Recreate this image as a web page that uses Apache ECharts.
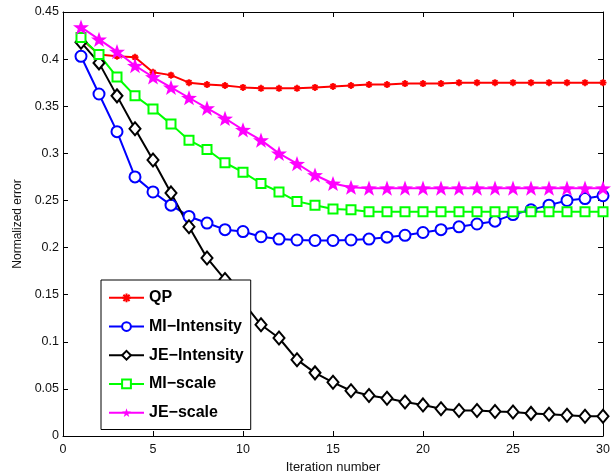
<!DOCTYPE html>
<html>
<head>
<meta charset="utf-8">
<script src="https://cdn.jsdelivr.net/npm/echarts@6/dist/echarts.min.js"></script>
<style>
  html, body { margin: 0; padding: 0; background: #fff; }
  #chart { width: 613px; height: 476px; }
</style>
</head>
<body>
<div id="chart"></div>
<script>
// iteration numbers on the x axis
const iterations = [1, 2, 3, 4, 5, 6, 7, 8, 9, 10, 11, 12, 13, 14, 15,
  16, 17, 18, 19, 20, 21, 22, 23, 24, 25, 26, 27, 28, 29, 30]

const qp = [0.422, 0.405, 0.403, 0.402, 0.386, 0.383, 0.375, 0.373, 0.372, 0.370,
  0.369, 0.369, 0.369, 0.370, 0.371, 0.372, 0.373, 0.373, 0.374, 0.374,
  0.374, 0.375, 0.375, 0.375, 0.375, 0.375, 0.375, 0.375, 0.375, 0.375]
const miIntensity = [0.403, 0.363, 0.323, 0.275, 0.259, 0.245, 0.233, 0.226, 0.219, 0.217,
  0.2115, 0.209, 0.208, 0.2075, 0.2075, 0.208, 0.209, 0.211, 0.213, 0.216,
  0.219, 0.222, 0.225, 0.228, 0.235, 0.240, 0.245, 0.250, 0.252, 0.255]
const jeIntensity = [0.418, 0.396, 0.361, 0.326, 0.293, 0.258, 0.222, 0.189, 0.166, 0.142,
  0.118, 0.104, 0.081, 0.067, 0.057, 0.048, 0.043, 0.040, 0.036, 0.033,
  0.029, 0.027, 0.027, 0.026, 0.0255, 0.024, 0.023, 0.022, 0.021, 0.021]
const miScale = [0.423, 0.405, 0.381, 0.361, 0.347, 0.331, 0.314, 0.304, 0.290, 0.280,
  0.268, 0.259, 0.249, 0.245, 0.241, 0.240, 0.238, 0.238, 0.238, 0.238,
  0.238, 0.238, 0.238, 0.238, 0.238, 0.238, 0.238, 0.238, 0.238, 0.238]
const jeScale = [0.434, 0.421, 0.408, 0.393, 0.381, 0.370, 0.359, 0.348, 0.337, 0.325,
  0.314, 0.300, 0.289, 0.277, 0.268, 0.264, 0.263, 0.263, 0.263, 0.263,
  0.263, 0.263, 0.263, 0.263, 0.263, 0.263, 0.263, 0.263, 0.263, 0.263]

const seriesNames = ['QP', 'MI\u2212Intensity', 'JE\u2212Intensity', 'MI\u2212scale', 'JE\u2212scale']

const FONT = '"Liberation Sans", Arial, Helvetica, sans-serif'
const asterisk = 'path://M0,-10L0,10M-10,0L10,0M-7,-7L7,7M-7,7L7,-7'
const star = 'path://M0,-10L2.35,-3.24L9.51,-3.09L3.8,1.24L5.88,8.09L0,4L-5.88,8.09L-3.8,1.24L-9.51,-3.09L-2.35,-3.24Z'

function pairs(values) {
  return iterations.map((x, i) => [x, values[i]])
}

function lineSeries(name, values, color, symbol, size, itemStyle) {
  return {
    type: 'line',
    name: name,
    data: pairs(values),
    symbol: symbol,
    symbolSize: size,
    symbolKeepAspect: true,
    showAllSymbol: true,
    lineStyle: { color: color, width: 2 },
    itemStyle: Object.assign({ color: color }, itemStyle),
    emphasis: { disabled: true }
  }
}

const myChart = echarts.init(document.getElementById('chart'), null, { renderer: 'canvas' })

const tickStyle = { inside: true, length: 5, lineStyle: { color: '#000', width: 1 } }
const lineBlack = { show: true, onZero: false, lineStyle: { color: '#000', width: 1 } }

myChart.setOption({
  animation: false,
  backgroundColor: '#fff',
  grid: { left: 63, right: 10, top: 12, bottom: 40, outerBoundsMode: 'none' },
  legend: {
    data: seriesNames,
    orient: 'vertical',
    left: 101,
    top: 280,
    padding: [9, 7, 8, 7],
    itemWidth: 35,
    itemHeight: 11,
    itemGap: 11,
    backgroundColor: '#fff',
    borderColor: '#000',
    borderWidth: 1,
    textStyle: { fontFamily: FONT, fontSize: 16, fontWeight: 'bold', color: '#000', lineHeight: 17.7 }
  },
  xAxis: [{
    type: 'value',
    min: 0, max: 30, interval: 5,
    name: 'Iteration number',
    nameLocation: 'middle',
    nameGap: 24,
    nameTextStyle: { fontFamily: FONT, fontSize: 13, color: '#111' },
    axisLine: lineBlack,
    axisTick: tickStyle,
    axisLabel: { fontFamily: FONT, fontSize: 12.5, color: '#111', margin: 7 },
    splitLine: { show: false }
  }, {
    type: 'value',
    position: 'top',
    min: 0, max: 30, interval: 5,
    axisLine: lineBlack,
    axisTick: tickStyle,
    axisLabel: { show: false },
    splitLine: { show: false }
  }],
  yAxis: [{
    type: 'value',
    min: 0, max: 0.45, interval: 0.05,
    name: 'Normalized error',
    nameLocation: 'middle',
    nameGap: 33,
    nameTextStyle: { fontFamily: FONT, fontSize: 12, color: '#111' },
    axisLine: lineBlack,
    axisTick: tickStyle,
    axisLabel: { fontFamily: FONT, fontSize: 12.5, color: '#111', margin: 4 },
    splitLine: { show: false }
  }, {
    type: 'value',
    position: 'right',
    min: 0, max: 0.45, interval: 0.05,
    axisLine: lineBlack,
    axisTick: tickStyle,
    axisLabel: { show: false },
    splitLine: { show: false }
  }],
  series: [
    lineSeries(seriesNames[0], qp, '#ff0000', asterisk, 7, { borderColor: '#ff0000', borderWidth: 1.8 }),
    lineSeries(seriesNames[1], miIntensity, '#0000ff', 'emptyCircle', 11, { borderWidth: 2 }),
    lineSeries(seriesNames[2], jeIntensity, '#000000', 'emptyDiamond', [11, 13], { borderWidth: 2 }),
    lineSeries(seriesNames[3], miScale, '#00ff00', 'emptyRect', 9, { borderWidth: 2 }),
    lineSeries(seriesNames[4], jeScale, '#ff00ff', star, 16, {})
  ]
})
</script>
</body>
</html>
